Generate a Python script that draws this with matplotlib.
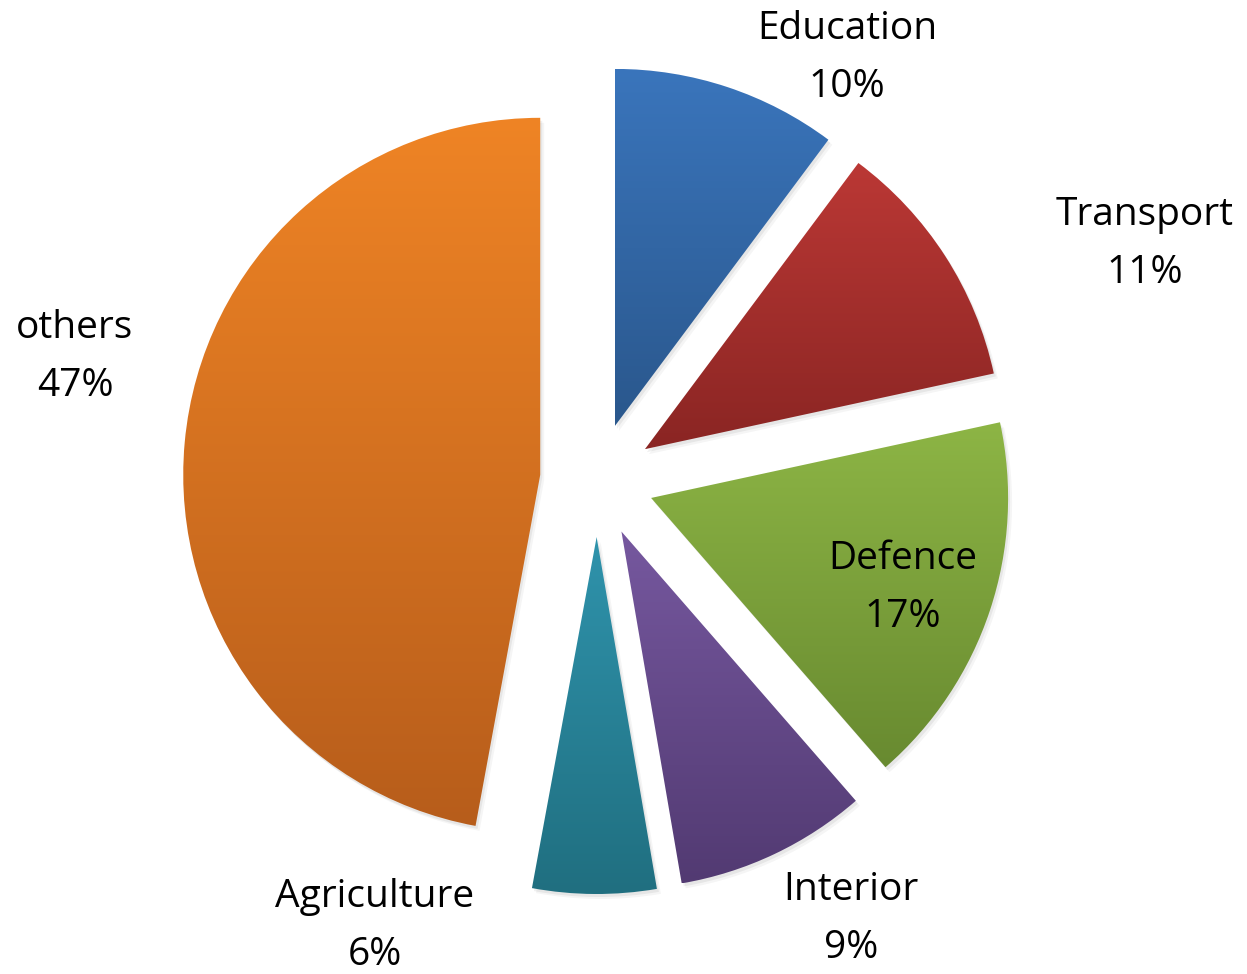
import numpy as np
import matplotlib.pyplot as plt
from matplotlib.patches import Wedge
from matplotlib.colors import LinearSegmentedColormap

categories = ['Education', 'Transport', 'Defence', 'Interior', 'Agriculture', 'others']
shares = [10.2, 11.4, 17.0, 8.7, 5.6, 47.1]
# top / bottom colours of the vertical gradient in each wedge
top_colors = ['#3A75BC', '#BB3835', '#8DB545', '#76589F', '#2F93AC', '#EF8425']
bottom_colors = ['#2A578C', '#8A2523', '#688A30', '#523A72', '#206F80', '#B75D1B']
# label centres in pixel space
label_xy = [(847, 58), (1145, 244), (903, 588), (851, 919), (375, 926), (75, 357)]

W, H = 1247, 974
fig = plt.figure(figsize=(W / 100, H / 100), dpi=100)
ax = fig.add_axes([0, 0, 1, 1])

radius = 357
center = (597, H - 480)
explode = [57] * len(shares)

wedges, _ = ax.pie(shares, startangle=90, counterclock=False, radius=radius,
                   center=center, explode=explode, frame=True)
ax.set_aspect('equal')
ax.axis('off')

for w, c0, c1 in zip(wedges, top_colors, bottom_colors):
    w.set_facecolor('none')
    w.set_edgecolor('none')
    # faint drop shadow
    for dx, dy, a in [(2, -3, 0.06), (4, -5, 0.04)]:
        ax.add_patch(Wedge((w.center[0] + dx, w.center[1] + dy), w.r,
                           w.theta1, w.theta2, facecolor='black', alpha=a,
                           edgecolor='none', zorder=1))
    verts = w.get_path().vertices
    x0, x1 = verts[:, 0].min(), verts[:, 0].max()
    y0, y1 = verts[:, 1].min(), verts[:, 1].max()
    cmap = LinearSegmentedColormap.from_list('g', [c1, c0])
    grad = np.linspace(0, 1, 256).reshape(-1, 1)
    im = ax.imshow(grad, cmap=cmap, extent=[x0, x1, y0, y1], origin='lower',
                   aspect='auto', zorder=2, interpolation='bilinear')
    w.set_zorder(2)
    im.set_clip_path(w)
ax.set_xlim(0, W)
ax.set_ylim(0, H)

for name, val, (lx, ly) in zip(categories, shares, label_xy):
    ax.text(lx, H - ly, f'{name}\n{val:.0f}%', ha='center', va='center',
            fontsize=28, family='Open Sans', linespacing=1.68, color='black', zorder=5)

fig.savefig('out.png', dpi=100)
